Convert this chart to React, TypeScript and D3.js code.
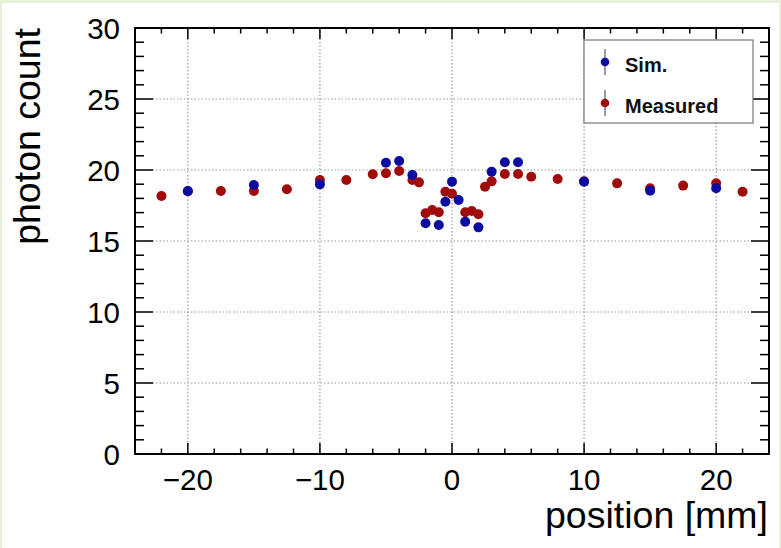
import {useEffect, useRef} from 'react';
import * as d3 from 'd3';

// measured and simulated photon counts vs. position
const measuredX = [-22, -20, -17.5, -15, -12.5, -10, -8, -6, -5, -4, -3, -2.5, -2, -1.5, -1, -0.5, 0, 1, 1.5, 2, 2.5, 3, 4, 5, 6, 8, 10, 12.5, 15, 17.5, 20, 22];
const measuredY = [18.17, 18.5, 18.52, 18.52, 18.64, 19.3, 19.3, 19.7, 19.77, 19.93, 19.3, 19.13, 16.95, 17.18, 17.02, 18.47, 18.33, 17.02, 17.11, 16.88, 18.82, 19.2, 19.72, 19.72, 19.53, 19.37, 19.2, 19.06, 18.71, 18.9, 19.06, 18.47];
const simX = [-20, -15, -10, -5, -4, -3, -2, -1, -0.5, 0, 0.5, 1, 2, 3, 4, 5, 10, 15, 20];
const simY = [18.52, 18.94, 18.99, 20.51, 20.63, 19.65, 16.25, 16.13, 17.77, 19.18, 17.89, 16.36, 15.96, 19.88, 20.54, 20.54, 19.18, 18.54, 18.71];
const xTicks = [-20, -10, 0, 10, 20];
const yTicks = [0, 5, 10, 15, 20, 25, 30];
const legendLabels = ['Sim.', 'Measured'];

const SIM_COLOR = '#0c0ca0';
const MEAS_COLOR = '#a00c0c';
const FONT = 'Liberation Sans, Arial, Helvetica, sans-serif';

const PhotonPlot = ({width, height}) => {
    const svgRef = useRef(null);

    useEffect(() => {
        const svg = d3.select(svgRef.current);
        svg.selectAll('*').remove();

        const left = 135, right = 769, top = 28, bottom = 454;

        // page background with pale frame
        svg.append('rect').attr('width', width).attr('height', height).attr('fill', '#e8f0da');
        svg.append('rect').attr('x', 2).attr('y', 3).attr('width', width - 4).attr('height', height - 3).attr('fill', '#fff');

        const x = d3.scaleLinear().domain([-24, 24]).range([left, right]);
        const y = d3.scaleLinear().domain([0, 30]).range([bottom, top]);

        // dotted grid
        const grid = svg.append('g').attr('stroke', '#9a9a9a').attr('stroke-width', 1.2).attr('stroke-dasharray', '1.5,2');
        grid.selectAll('.gx').data(xTicks).enter().append('line')
            .attr('x1', d => x(d)).attr('x2', d => x(d)).attr('y1', top).attr('y2', bottom);
        grid.selectAll('.gy').data(yTicks.slice(1, -1)).enter().append('line')
            .attr('x1', left).attr('x2', right).attr('y1', d => y(d)).attr('y2', d => y(d));

        // ticks on all four sides
        const ticks = svg.append('g').attr('stroke', '#000').attr('stroke-width', 1.5);
        const xMinor = d3.range(-24, 24.01, 2);
        const yMinor = d3.range(0, 30.01, 1);
        xMinor.forEach(v => {
            const len = v % 10 === 0 ? 11 : 5.5;
            ticks.append('line').attr('x1', x(v)).attr('x2', x(v)).attr('y1', bottom).attr('y2', bottom - len);
            ticks.append('line').attr('x1', x(v)).attr('x2', x(v)).attr('y1', top).attr('y2', top + len);
        });
        yMinor.forEach(v => {
            const len = v % 5 === 0 ? 18 : 9;
            ticks.append('line').attr('x1', left).attr('x2', left + len).attr('y1', y(v)).attr('y2', y(v));
            ticks.append('line').attr('x1', right).attr('x2', right - len).attr('y1', y(v)).attr('y2', y(v));
        });

        // frame
        svg.append('rect').attr('x', left).attr('y', top).attr('width', right - left).attr('height', bottom - top)
            .attr('fill', 'none').attr('stroke', '#000').attr('stroke-width', 2);

        // tick labels
        svg.append('g').selectAll('text').data(xTicks).enter().append('text')
            .attr('x', d => x(d)).attr('y', 490)
            .attr('text-anchor', 'middle')
            .style('font-family', FONT).style('font-size', '29.5px')
            .text(d => d < 0 ? '\u2212' + Math.abs(d) : d);
        svg.append('g').selectAll('text').data(yTicks).enter().append('text')
            .attr('x', 120).attr('y', d => y(d)).attr('dy', '0.36em')
            .attr('text-anchor', 'end')
            .style('font-family', FONT).style('font-size', '29.5px')
            .text(d => d);

        // axis titles
        svg.append('text')
            .attr('x', 768).attr('y', 528)
            .attr('text-anchor', 'end')
            .style('font-family', FONT).style('font-size', '37.5px')
            .text('position [mm]');
        svg.append('text')
            .attr('transform', `translate(40,${top}) rotate(-90)`)
            .attr('text-anchor', 'end')
            .style('font-family', FONT).style('font-size', '37.5px')
            .text('photon count');

        // markers: measured first, simulation on top
        const measured = measuredX.map((v, i) => ({x: v, y: measuredY[i]}));
        const sim = simX.map((v, i) => ({x: v, y: simY[i]}));
        svg.append('g').selectAll('circle').data(measured).enter().append('circle')
            .attr('cx', d => x(d.x)).attr('cy', d => y(d.y)).attr('r', 5).attr('fill', MEAS_COLOR);
        svg.append('g').selectAll('circle').data(sim).enter().append('circle')
            .attr('cx', d => x(d.x)).attr('cy', d => y(d.y)).attr('r', 5).attr('fill', SIM_COLOR);

        // legend
        const lg = svg.append('g');
        lg.append('rect').attr('x', 584).attr('y', 40).attr('width', 169).attr('height', 83)
            .attr('fill', '#fff').attr('stroke', '#777').attr('stroke-width', 1.2);
        const colors = [SIM_COLOR, MEAS_COLOR];
        legendLabels.forEach((label, i) => {
            const cy = 62 + i * 41;
            lg.append('line').attr('x1', 605).attr('x2', 605).attr('y1', cy - 13).attr('y2', cy + 13)
                .attr('stroke', '#666').attr('stroke-width', 1.3);
            lg.append('circle').attr('cx', 605).attr('cy', cy).attr('r', 4.3).attr('fill', colors[i]);
            lg.append('text').attr('x', 625).attr('y', cy + 10)
                .style('font-family', FONT).style('font-size', '20px').style('font-weight', 'bold')
                .attr('fill', '#111')
                .text(label);
        });
    }, [width, height]);

    return (<svg ref={svgRef} width={width} height={height} style={{position: 'absolute', left: 0, top: 0}}></svg>);
};

export default function App() {
    return <PhotonPlot width={781} height={548}/>;
}
